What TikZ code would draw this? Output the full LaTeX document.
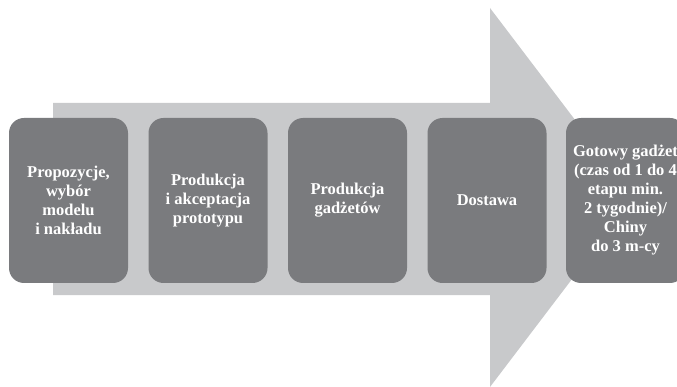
\documentclass[tikz,border=0pt]{standalone}
\usepackage{fontspec}
\setmainfont{Liberation Serif}
\usepackage{tikz}
\usetikzlibrary{positioning}
\definecolor{arrowgray}{HTML}{C8C9CB}
\definecolor{boxgray}{HTML}{7A7B7E}
\tikzstyle{stage} = [rectangle, rounded corners=15pt, minimum width=119pt, minimum height=165pt, inner sep=1pt, text centered, align=center, fill=boxgray, text=white, font=\fontsize{16.5}{19}\selectfont\bfseries]

\begin{document}
\begin{tikzpicture}[x=1pt, y=-1pt, node distance=139.5pt]
\useasboundingbox (0,0) rectangle (677,387);
\clip (0,0) rectangle (677,387);
% big arrow in the background
\fill [arrowgray] (53,103) -- (490,103) -- (490,8) -- (634,197.5) -- (490,387) -- (490,295) -- (53,295) -- cycle;
% stages
\node (proposals) [stage] at (68.5,200.5) {Propozycje,\\wybór\\modelu\\i nakładu};
\node (prototype) [stage, right of = proposals] {Produkcja\\i akceptacja\\prototypu};
\node (production) [stage, right of = prototype] {Produkcja\\gadżetów};
\node (delivery) [stage, right of = production] {Dostawa};
\node (ready) [stage, right of = delivery, xshift=-1pt] {Gotowy gadżet\\(czas od 1 do 4\\etapu min.\\2 tygodnie)/\\Chiny\\do 3 m-cy};
\end{tikzpicture}
\end{document}
